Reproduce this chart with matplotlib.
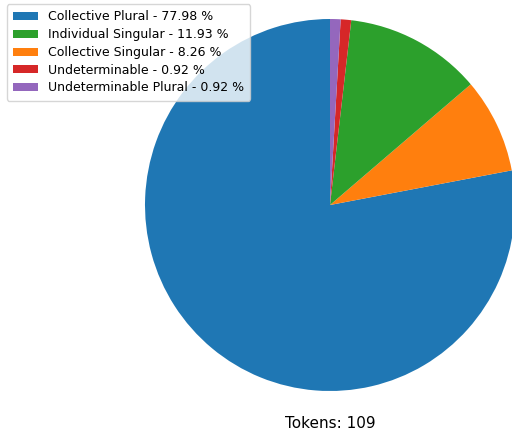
import matplotlib
matplotlib.use("Agg")
import matplotlib.pyplot as plt
from matplotlib.patches import Patch

# data in drawing order (counter-clockwise from the top)
categorias = ['Collective Plural', 'Collective Singular', 'Individual Singular',
              'Undeterminable', 'Undeterminable Plural']
cantidades = [85, 9, 13, 1, 1]
colores = ['#1f77b4', '#ff7f0e', '#2ca02c', '#d62728', '#9467bd']

# legend order (by share)
orden_leyenda = [0, 2, 1, 3, 4]

total = sum(cantidades)

fig = plt.figure(figsize=(5.12, 4.30), dpi=100)
ax = fig.add_axes([145 / 512, 39 / 430, 370 / 512, 372 / 430])
ax.pie(cantidades, colors=colores, startangle=90, counterclock=True, radius=1)
ax.set_xlim(-1, 1)
ax.set_ylim(-1, 1)
ax.set_aspect('auto')
ax.axis('off')

handles = []
for i in orden_leyenda:
    pct = 100 * cantidades[i] / total
    handles.append(Patch(facecolor=colores[i], label=f'{categorias[i]} - {pct:.2f} %'))
fig.legend(handles=handles, loc='upper left', bbox_to_anchor=(0.008, 0.996),
           fontsize=9, framealpha=0.8, borderaxespad=0.2, labelspacing=0.38,
           handleheight=0.6, borderpad=0.5)

fig.text(330 / 512, 1 - 423 / 430, f'Tokens: {total}', ha='center', va='center', fontsize=11)

fig.savefig('out.png', dpi=100)
